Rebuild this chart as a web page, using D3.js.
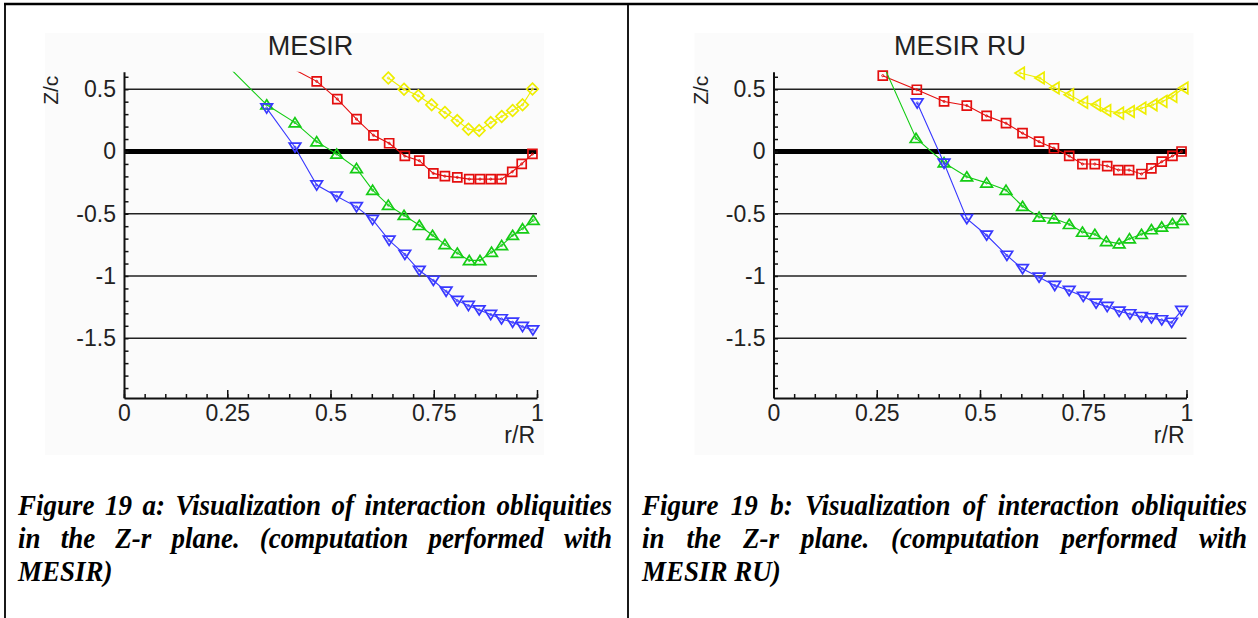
<!DOCTYPE html>
<html>
<head>
<meta charset="utf-8">
<script src="https://cdn.jsdelivr.net/npm/d3@7/dist/d3.min.js"></script>
<style>
  html, body { margin: 0; padding: 0; background: #fff; }
  svg { display: block; }
</style>
</head>
<body>
<svg id="fig" width="1258" height="618"></svg>
<script>
// ---- radial stations and Z/c values, panel a (MESIR) ----
const aRedR    = [0.40, 0.4666, 0.5165, 0.563, 0.604, 0.642, 0.680, 0.715, 0.749, 0.777, 0.807, 0.836, 0.862, 0.888, 0.914, 0.940, 0.963, 0.989];
const aRedZ    = [0.68, 0.563, 0.421, 0.26, 0.13, 0.066, -0.036, -0.074, -0.176, -0.198, -0.208, -0.222, -0.222, -0.222, -0.222, -0.163, -0.10, -0.02];
const aGreenR  = [0.25, 0.3455, 0.414, 0.4666, 0.515, 0.563, 0.602, 0.640, 0.678, 0.715, 0.747, 0.777, 0.807, 0.836, 0.862, 0.890, 0.9145, 0.941, 0.965, 0.991];
const aGreenZ  = [0.69, 0.375, 0.232, 0.079, -0.02, -0.136, -0.31, -0.431, -0.512, -0.593, -0.673, -0.746, -0.816, -0.875, -0.875, -0.808, -0.754, -0.673, -0.62, -0.552];
const aBlueR   = [0.3455, 0.414, 0.4666, 0.515, 0.563, 0.602, 0.642, 0.680, 0.715, 0.749, 0.780, 0.807, 0.834, 0.860, 0.888, 0.914, 0.941, 0.965, 0.990];
const aBlueZ   = [0.348, 0.034, -0.27, -0.359, -0.445, -0.547, -0.714, -0.827, -0.956, -1.036, -1.123, -1.198, -1.238, -1.273, -1.31, -1.345, -1.372, -1.407, -1.434];
const aYellowR = [0.640, 0.678, 0.7126, 0.745, 0.777, 0.807, 0.834, 0.860, 0.888, 0.9145, 0.941, 0.965, 0.989];
const aYellowZ = [0.59, 0.50, 0.448, 0.375, 0.313, 0.248, 0.179, 0.168, 0.232, 0.281, 0.329, 0.375, 0.502];

// ---- panel b (MESIR RU) ----
const bRedR    = [0.2646, 0.347, 0.413, 0.468, 0.516, 0.563, 0.603, 0.643, 0.679, 0.716, 0.748, 0.778, 0.808, 0.835, 0.861, 0.891, 0.915, 0.940, 0.966, 0.988];
const bRedZ    = [0.609, 0.496, 0.402, 0.369, 0.286, 0.227, 0.147, 0.079, 0.026, -0.036, -0.101, -0.101, -0.117, -0.149, -0.149, -0.181, -0.136, -0.082, -0.036, 0.0];
const bGreenR  = [0.265, 0.345, 0.413, 0.468, 0.516, 0.563, 0.603, 0.643, 0.679, 0.716, 0.748, 0.778, 0.806, 0.837, 0.862, 0.891, 0.915, 0.940, 0.966, 0.990];
const bGreenZ  = [0.70, 0.106, -0.09, -0.203, -0.252, -0.31, -0.44, -0.526, -0.539, -0.585, -0.647, -0.665, -0.722, -0.74, -0.70, -0.665, -0.627, -0.606, -0.579, -0.552];
const bBlueR   = [0.348, 0.413, 0.468, 0.516, 0.565, 0.603, 0.643, 0.681, 0.716, 0.750, 0.781, 0.808, 0.837, 0.863, 0.891, 0.915, 0.940, 0.964, 0.988];
const bBlueZ   = [0.389, -0.095, -0.54, -0.673, -0.835, -0.942, -1.01, -1.077, -1.117, -1.165, -1.219, -1.246, -1.284, -1.305, -1.327, -1.337, -1.353, -1.373, -1.278];
const bYellowR = [0.597, 0.645, 0.681, 0.716, 0.750, 0.781, 0.806, 0.837, 0.863, 0.891, 0.918, 0.942, 0.966, 0.993];
const bYellowZ = [0.63, 0.59, 0.51, 0.456, 0.394, 0.375, 0.329, 0.308, 0.321, 0.348, 0.375, 0.402, 0.442, 0.51];

// ---- axes ----
const xTickLabels = ["0", "0.25", "0.5", "0.75", "1"];
const xMajorTicks = [0, 0.25, 0.5, 0.75, 1];
const yTickLabels = ["0.5", "0", "-0.5", "-1", "-1.5"];
const yMajorTicks = [0.5, 0, -0.5, -1, -1.5];
const zDomain = [-1.98, 0.64];

const titles = ["MESIR", "MESIR RU"];
const captionsA = ["Figure 19 a: Visualization of interaction obliquities", "in the Z-r plane. (computation performed with", "MESIR)"];
const captionsB = ["Figure 19 b: Visualization of interaction obliquities", "in the Z-r plane. (computation performed with", "MESIR RU)"];

const COLORS = { red: "#e40e0e", green: "#14cc14", blue: "#3838ff", yellow: "#eeee00" };
const SANS = "'Liberation Sans', Arial, sans-serif";
const SERIF = "'Liberation Serif', 'Times New Roman', serif";

const svg = d3.select("#fig");

// table rules around the two figure cells
svg.append("line").attr("x1", 4).attr("x2", 1258).attr("y1", 4).attr("y2", 4)
  .attr("stroke", "#000").attr("stroke-width", 2.5);
svg.append("line").attr("x1", 5).attr("x2", 5).attr("y1", 3).attr("y2", 618)
  .attr("stroke", "#000").attr("stroke-width", 1.8);
svg.append("line").attr("x1", 628).attr("x2", 628).attr("y1", 3).attr("y2", 618)
  .attr("stroke", "#000").attr("stroke-width", 1.8);

// marker outlines, centred on 0,0
const shapes = {
  square:   "M-4.5,-4.5H4.5V4.5H-4.5Z",
  up:       "M0,-5L5.8,4.2H-5.8Z",
  down:     "M0,5L5.8,-4.2H-5.8Z",
  diamond:  "M0,-5.8L5.8,0L0,5.8L-5.8,0Z",
  left:     "M-5,0L4.2,-5.8V5.8Z"
};

function panel(opts) {
  const g = svg.append("g");
  const x = d3.scaleLinear().domain([0, 1]).range([opts.x0, opts.x0 + 413]);
  const y = d3.scaleLinear().domain(zDomain).range([398, 71.8]);

  // pale image background behind the plot
  g.append("rect").attr("x", opts.x0 - 79).attr("y", 33).attr("width", 499).attr("height", 422)
    .attr("fill", "#fbfbfb");

  const clipId = "clip" + opts.key;
  g.append("clipPath").attr("id", clipId).append("rect")
    .attr("x", x(0)).attr("y", y(zDomain[1])).attr("width", x(1) - x(0) + 6).attr("height", y(zDomain[0]) - y(zDomain[1]));

  // horizontal reference lines
  g.append("g").selectAll("line").data(yMajorTicks).join("line")
    .attr("x1", x(0)).attr("x2", x(1))
    .attr("y1", d => y(d)).attr("y2", d => y(d))
    .attr("stroke", d => d === 0 ? "#000" : "#222")
    .attr("stroke-width", d => d === 0 ? 5 : 1.6);

  // axes: minor ticks, major ticks with labels
  const minorX = d3.range(0, 1.0001, 0.05);
  g.append("g").attr("transform", `translate(0,${y(zDomain[0])})`)
    .call(d3.axisBottom(x).tickValues(minorX).tickSizeInner(-4).tickSizeOuter(0).tickFormat(""))
    .call(a => a.selectAll("line").attr("stroke", "#111").attr("stroke-width", 1.5))
    .call(a => a.select(".domain").attr("stroke", "#111").attr("stroke-width", 2));
  g.append("g").attr("transform", `translate(0,${y(zDomain[0])})`)
    .call(d3.axisBottom(x).tickValues(xMajorTicks).tickSizeInner(-8).tickSizeOuter(0)
      .tickPadding(20).tickFormat((d, i) => xTickLabels[i]))
    .call(a => a.select(".domain").remove())
    .call(a => a.selectAll("line").attr("stroke", "#111").attr("stroke-width", 1.5))
    .call(a => a.selectAll("text").attr("font-family", SANS)
      .attr("font-size", 23).attr("fill", "#222").attr("dy", null).attr("y", 23));

  const minorY = d3.range(-19, 7).map(k => k / 10);
  g.append("g").attr("transform", `translate(${x(0)},0)`)
    .call(d3.axisLeft(y).tickValues(minorY).tickSizeInner(-4.5).tickSizeOuter(0).tickFormat(""))
    .call(a => a.selectAll("line").attr("stroke", "#111").attr("stroke-width", 1.5))
    .call(a => a.select(".domain").attr("stroke", "#111").attr("stroke-width", 2));
  g.append("g").attr("transform", `translate(${x(0)},0)`)
    .call(d3.axisLeft(y).tickValues(yMajorTicks).tickSize(0).tickPadding(8)
      .tickFormat((d, i) => yTickLabels[i]))
    .call(a => a.select(".domain").remove())
    .call(a => a.selectAll("text").attr("font-family", SANS)
      .attr("font-size", 23).attr("fill", "#222"));

  // title and axis names
  g.append("text").attr("x", (x(0) + x(1)) / 2 - 20).attr("y", 55)
    .attr("text-anchor", "middle").attr("font-family", SANS)
    .attr("font-size", 27).attr("fill", "#222").text(opts.title);
  g.append("text").attr("x", x(1) - 2).attr("y", 443)
    .attr("text-anchor", "end").attr("font-family", SANS)
    .attr("font-size", 23).attr("fill", "#222").text("r/R");
  g.append("text")
    .attr("transform", `translate(${x(0) - 66},${y(0.5) + 1}) rotate(-90)`)
    .attr("text-anchor", "middle").attr("font-family", SANS)
    .attr("font-size", 21).attr("fill", "#222").text("Z/c");

  // data series
  const line = d3.line().x(d => x(d[0])).y(d => y(d[1]));
  opts.series.forEach(s => {
    const pts = s.r.map((r, i) => [r, s.z[i]]);
    g.append("path").datum(pts).attr("d", line)
      .attr("clip-path", `url(#${clipId})`)
      .attr("fill", "none").attr("stroke", s.color).attr("stroke-width", 1.1);
    const inside = pts.filter(p => p[1] <= zDomain[1]);
    const m = g.append("g").selectAll("g").data(inside).join("g")
      .attr("transform", d => `translate(${x(d[0])},${y(d[1])})`);
    m.append("path").attr("d", shapes[s.shape]).attr("fill", "none")
      .attr("stroke", s.color).attr("stroke-width", 1.7).attr("stroke-linejoin", "miter");
    m.append("circle").attr("r", 1.1).attr("fill", "none").attr("stroke", s.color).attr("stroke-width", 0.9);
  });
}

panel({
  key: "a", x0: 124, title: titles[0],
  series: [
    { r: aRedR, z: aRedZ, color: COLORS.red, shape: "square" },
    { r: aGreenR, z: aGreenZ, color: COLORS.green, shape: "up" },
    { r: aBlueR, z: aBlueZ, color: COLORS.blue, shape: "down" },
    { r: aYellowR, z: aYellowZ, color: COLORS.yellow, shape: "diamond" }
  ]
});
panel({
  key: "b", x0: 773.5, title: titles[1],
  series: [
    { r: bRedR, z: bRedZ, color: COLORS.red, shape: "square" },
    { r: bGreenR, z: bGreenZ, color: COLORS.green, shape: "up" },
    { r: bBlueR, z: bBlueZ, color: COLORS.blue, shape: "down" },
    { r: bYellowR, z: bYellowZ, color: COLORS.yellow, shape: "left" }
  ]
});

// caption type size: first line set solid across the cell width
function captionFontSize(text, width) {
  const probe = svg.append("text").attr("font-family", SERIF).attr("font-weight", "bold")
    .attr("font-style", "italic").attr("font-size", 20).text(text);
  const w = probe.node().getComputedTextLength();
  probe.remove();
  return Math.min(27, Math.max(18, 20 * width / w));
}
const capSize = captionFontSize(captionsA[0], 612 - 18);

// justified captions under each figure (type slightly tall, as printed)
function caption(lines, xl, xr) {
  const baselines = [515, 548, 581];
  lines.forEach((ln, li) => {
    const words = ln.split(" ");
    const t = svg.append("g").attr("transform", `translate(0,${baselines[li]}) scale(1,1.13)`);
    const nodes = words.map(w => t.append("text")
      .attr("font-family", SERIF)
      .attr("font-weight", "bold").attr("font-style", "italic")
      .attr("font-size", capSize).attr("fill", "#000")
      .attr("y", 0).text(w));
    const widths = nodes.map(n => n.node().getComputedTextLength());
    const total = d3.sum(widths);
    const last = li === lines.length - 1;
    const gap = (last || words.length < 2) ? capSize * 0.25 : (xr - xl - total) / (words.length - 1);
    let cx = xl;
    nodes.forEach((n, i) => { n.attr("x", cx); cx += widths[i] + gap; });
  });
}
caption(captionsA, 18, 612);
caption(captionsB, 642, 1247);
</script>
</body>
</html>
